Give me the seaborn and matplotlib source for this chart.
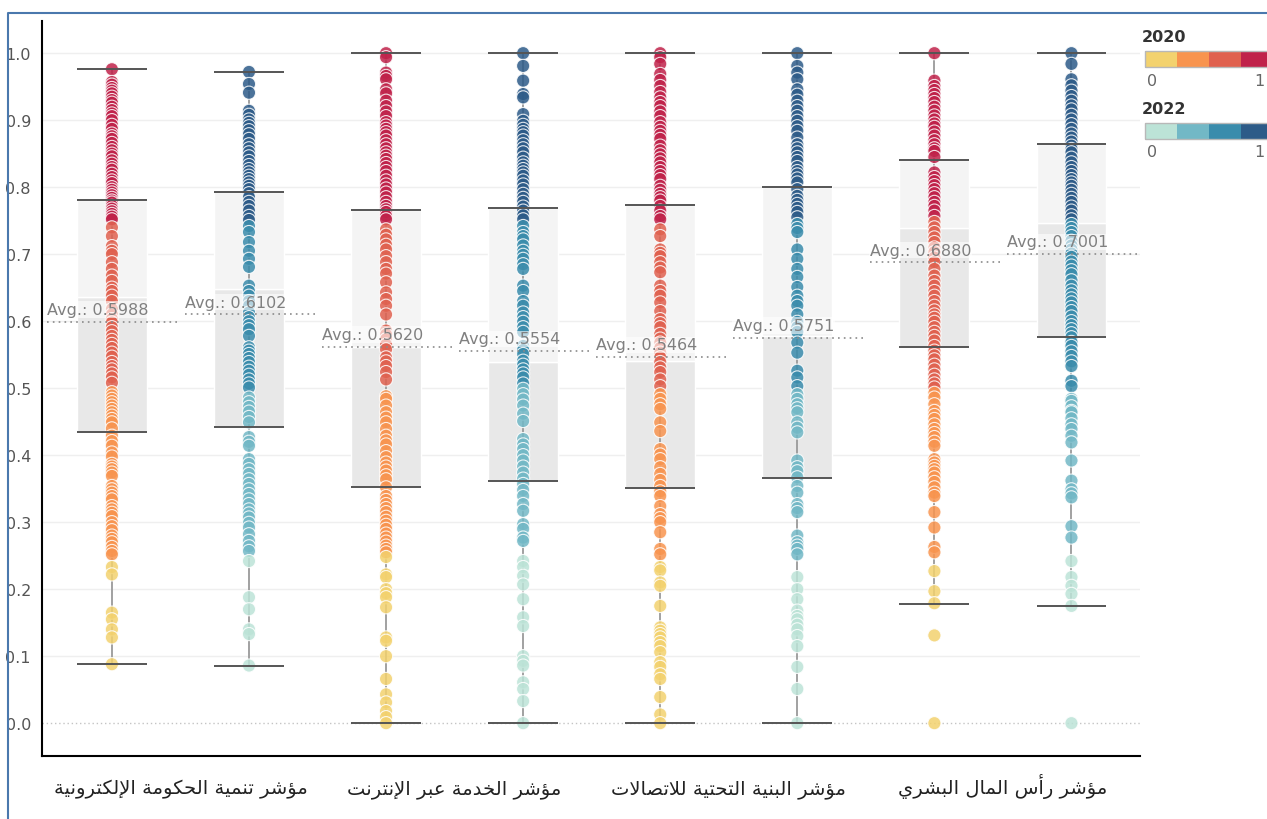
import numpy as np
import pandas as pd
import matplotlib
matplotlib.use("Agg")
import matplotlib.pyplot as plt
import seaborn as sns
from matplotlib.patches import Rectangle
from matplotlib.lines import Line2D

# -----------------------------
# Datos
# -----------------------------
indicators = ["مؤشر تنمية الحكومة الإلكترونية", "مؤشر الخدمة عبر الإنترنت",
              "مؤشر البنية التحتية للاتصالات", "مؤشر رأس المال البشري"]
years = ["2020", "2022"]

egov_2020 = [0.976, 0.957, 0.953, 0.948, 0.944, 0.940, 0.935, 0.930, 0.926, 0.920, 0.915, 0.910, 0.906, 0.900,
             0.893, 0.887, 0.880, 0.876, 0.872, 0.866, 0.860, 0.855, 0.850, 0.846, 0.840, 0.835, 0.830, 0.826,
             0.820, 0.815, 0.810, 0.806, 0.800, 0.796, 0.792, 0.788, 0.784, 0.780, 0.777, 0.772, 0.768, 0.764,
             0.760, 0.756, 0.752, 0.740, 0.727, 0.712, 0.705, 0.700, 0.688, 0.678, 0.668, 0.660, 0.650, 0.645,
             0.638, 0.630, 0.618, 0.610, 0.603, 0.598, 0.591, 0.585, 0.578, 0.572, 0.566, 0.560, 0.553, 0.547,
             0.539, 0.533, 0.528, 0.522, 0.516, 0.508, 0.494, 0.489, 0.484, 0.479, 0.474, 0.469, 0.464, 0.459,
             0.454, 0.449, 0.440, 0.429, 0.421, 0.414, 0.404, 0.398, 0.387, 0.383, 0.379, 0.374, 0.369, 0.354,
             0.349, 0.344, 0.339, 0.334, 0.324, 0.319, 0.314, 0.309, 0.300, 0.294, 0.288, 0.280, 0.275, 0.270,
             0.263, 0.257, 0.252, 0.233, 0.222, 0.165, 0.155, 0.140, 0.128, 0.088]
egov_2022 = [0.972, 0.954, 0.941, 0.914, 0.908, 0.901, 0.896, 0.891, 0.885, 0.879, 0.872, 0.864, 0.858, 0.852,
             0.846, 0.839, 0.833, 0.827, 0.822, 0.817, 0.812, 0.807, 0.802, 0.797, 0.791, 0.785, 0.778, 0.772,
             0.765, 0.757, 0.751, 0.742, 0.733, 0.718, 0.705, 0.693, 0.681, 0.653, 0.645, 0.638, 0.630, 0.623,
             0.613, 0.606, 0.600, 0.594, 0.588, 0.578, 0.561, 0.556, 0.551, 0.545, 0.539, 0.532, 0.526, 0.520,
             0.513, 0.507, 0.501, 0.486, 0.479, 0.472, 0.465, 0.457, 0.449, 0.427, 0.420, 0.414, 0.394, 0.387,
             0.379, 0.372, 0.364, 0.357, 0.349, 0.342, 0.334, 0.327, 0.319, 0.313, 0.307, 0.299, 0.292, 0.282,
             0.272, 0.264, 0.257, 0.242, 0.188, 0.170, 0.140, 0.133, 0.086]
online_2020 = [1.0, 0.994, 0.971, 0.966, 0.961, 0.946, 0.940, 0.929, 0.921, 0.913, 0.906, 0.897, 0.892, 0.887,
               0.882, 0.877, 0.870, 0.864, 0.858, 0.852, 0.847, 0.842, 0.836, 0.830, 0.824, 0.817, 0.810, 0.804,
               0.798, 0.792, 0.785, 0.778, 0.772, 0.767, 0.763, 0.757, 0.752, 0.737, 0.729, 0.722, 0.714, 0.707,
               0.697, 0.688, 0.678, 0.671, 0.658, 0.643, 0.633, 0.623, 0.610, 0.586, 0.580, 0.573, 0.565, 0.558,
               0.546, 0.540, 0.533, 0.524, 0.513, 0.488, 0.484, 0.474, 0.464, 0.456, 0.449, 0.439, 0.429, 0.422,
               0.416, 0.406, 0.397, 0.389, 0.383, 0.377, 0.370, 0.364, 0.352, 0.339, 0.333, 0.327, 0.321, 0.315,
               0.308, 0.302, 0.296, 0.290, 0.283, 0.277, 0.271, 0.265, 0.260, 0.255, 0.248, 0.222, 0.218, 0.200,
               0.194, 0.188, 0.173, 0.128, 0.123, 0.100, 0.066, 0.043, 0.031, 0.018, 0.009, 0.0]
online_2022 = [1.0, 0.981, 0.959, 0.939, 0.934, 0.909, 0.899, 0.893, 0.887, 0.882, 0.877, 0.870, 0.864, 0.858,
               0.852, 0.844, 0.837, 0.832, 0.827, 0.822, 0.817, 0.810, 0.804, 0.797, 0.790, 0.784, 0.778, 0.771,
               0.765, 0.758, 0.752, 0.742, 0.733, 0.727, 0.722, 0.713, 0.705, 0.699, 0.693, 0.685, 0.678, 0.653,
               0.645, 0.630, 0.623, 0.613, 0.606, 0.599, 0.591, 0.584, 0.563, 0.557, 0.551, 0.541, 0.535, 0.528,
               0.522, 0.516, 0.507, 0.499, 0.491, 0.483, 0.474, 0.462, 0.451, 0.424, 0.416, 0.409, 0.400, 0.392,
               0.383, 0.374, 0.365, 0.357, 0.348, 0.339, 0.327, 0.317, 0.297, 0.290, 0.277, 0.272, 0.242, 0.233,
               0.220, 0.207, 0.185, 0.158, 0.145, 0.100, 0.093, 0.086, 0.061, 0.051, 0.033, 0.0]
infra_2020 = [1.0, 0.994, 0.984, 0.969, 0.960, 0.951, 0.942, 0.934, 0.927, 0.921, 0.913, 0.906, 0.897, 0.890,
              0.884, 0.878, 0.872, 0.862, 0.855, 0.849, 0.843, 0.837, 0.830, 0.824, 0.818, 0.812, 0.802, 0.796,
              0.790, 0.785, 0.780, 0.772, 0.765, 0.757, 0.752, 0.737, 0.727, 0.707, 0.702, 0.697, 0.688, 0.680,
              0.673, 0.653, 0.645, 0.638, 0.628, 0.615, 0.603, 0.597, 0.591, 0.581, 0.574, 0.568, 0.560, 0.553,
              0.546, 0.539, 0.531, 0.524, 0.513, 0.503, 0.491, 0.484, 0.476, 0.469, 0.449, 0.436, 0.409, 0.401,
              0.394, 0.382, 0.372, 0.363, 0.354, 0.346, 0.339, 0.324, 0.312, 0.306, 0.300, 0.285, 0.260, 0.252,
              0.233, 0.228, 0.210, 0.205, 0.175, 0.143, 0.138, 0.133, 0.128, 0.121, 0.115, 0.106, 0.091, 0.084,
              0.073, 0.066, 0.039, 0.013, 0.0]
infra_2022 = [1.0, 0.981, 0.971, 0.961, 0.946, 0.938, 0.929, 0.921, 0.914, 0.906, 0.899, 0.891, 0.884, 0.874,
              0.864, 0.858, 0.852, 0.845, 0.839, 0.830, 0.824, 0.819, 0.813, 0.807, 0.797, 0.787, 0.781, 0.775,
              0.769, 0.763, 0.755, 0.745, 0.739, 0.733, 0.707, 0.693, 0.678, 0.666, 0.651, 0.638, 0.630, 0.623,
              0.610, 0.599, 0.591, 0.584, 0.568, 0.553, 0.526, 0.516, 0.503, 0.491, 0.484, 0.476, 0.470, 0.464,
              0.449, 0.441, 0.434, 0.392, 0.382, 0.376, 0.367, 0.354, 0.344, 0.327, 0.321, 0.315, 0.280, 0.270,
              0.265, 0.260, 0.252, 0.218, 0.200, 0.185, 0.168, 0.160, 0.155, 0.147, 0.140, 0.130, 0.115, 0.084,
              0.051, 0.0]
hci_2020 = [1.0, 0.959, 0.951, 0.945, 0.939, 0.933, 0.927, 0.920, 0.914, 0.907, 0.901, 0.895, 0.890, 0.883,
            0.877, 0.870, 0.864, 0.858, 0.854, 0.845, 0.822, 0.815, 0.809, 0.803, 0.797, 0.791, 0.785, 0.778,
            0.772, 0.765, 0.757, 0.748, 0.740, 0.733, 0.725, 0.718, 0.710, 0.703, 0.695, 0.688, 0.678, 0.668,
            0.660, 0.653, 0.645, 0.638, 0.630, 0.623, 0.616, 0.610, 0.605, 0.599, 0.591, 0.584, 0.578, 0.571,
            0.563, 0.556, 0.549, 0.543, 0.535, 0.528, 0.520, 0.513, 0.507, 0.501, 0.493, 0.486, 0.476, 0.466,
            0.460, 0.454, 0.446, 0.439, 0.433, 0.427, 0.420, 0.414, 0.394, 0.389, 0.384, 0.379, 0.374, 0.367,
            0.360, 0.352, 0.344, 0.339, 0.315, 0.292, 0.263, 0.255, 0.227, 0.197, 0.179, 0.131, 0.0]
hci_2022 = [1.0, 0.984, 0.961, 0.952, 0.944, 0.936, 0.929, 0.922, 0.916, 0.908, 0.901, 0.894, 0.887, 0.880,
            0.874, 0.868, 0.862, 0.857, 0.852, 0.844, 0.837, 0.830, 0.824, 0.818, 0.812, 0.807, 0.802, 0.796,
            0.790, 0.784, 0.778, 0.771, 0.765, 0.758, 0.752, 0.745, 0.739, 0.733, 0.727, 0.720, 0.713, 0.707,
            0.701, 0.696, 0.689, 0.683, 0.676, 0.670, 0.661, 0.653, 0.646, 0.640, 0.634, 0.628, 0.621, 0.615,
            0.607, 0.600, 0.594, 0.588, 0.582, 0.576, 0.569, 0.563, 0.555, 0.548, 0.540, 0.533, 0.511, 0.503,
            0.484, 0.481, 0.473, 0.466, 0.464, 0.455, 0.446, 0.439, 0.429, 0.419, 0.392, 0.362, 0.349, 0.343,
            0.337, 0.294, 0.277, 0.242, 0.218, 0.205, 0.193, 0.175, 0.0]

series = [egov_2020, egov_2022, online_2020, online_2022, infra_2020, infra_2022, hci_2020, hci_2022]

# estadisticas de las cajas
box_q1 = [0.434, 0.442, 0.353, 0.362, 0.351, 0.366, 0.561, 0.577]
box_med = [0.636, 0.648, 0.562, 0.539, 0.540, 0.578, 0.739, 0.746]
box_q3 = [0.781, 0.793, 0.766, 0.769, 0.773, 0.800, 0.841, 0.864]
whisk_lo = [0.088, 0.085, 0.0, 0.0, 0.0, 0.0, 0.178, 0.175]
whisk_hi = [0.976, 0.972, 1.0, 1.0, 1.0, 1.0, 1.0, 1.0]
means = [0.5988, 0.6102, 0.5620, 0.5554, 0.5464, 0.5751, 0.6880, 0.7001]

colors_2020 = ["#F3D26E", "#F8944F", "#E0614F", "#C0224A"]
colors_2022 = ["#BCE3D7", "#72B8C6", "#3A8CAC", "#2D5B88"]


# forma de presentacion arabe (matplotlib no hace "shaping")
FOUR = {'ئ': 0xFE89, 'ب': 0xFE8F, 'ت': 0xFE95, 'ث': 0xFE99, 'ج': 0xFE9D, 'ح': 0xFEA1, 'خ': 0xFEA5,
        'س': 0xFEB1, 'ش': 0xFEB5, 'ص': 0xFEB9, 'ض': 0xFEBD, 'ط': 0xFEC1, 'ظ': 0xFEC5, 'ع': 0xFEC9,
        'غ': 0xFECD, 'ف': 0xFED1, 'ق': 0xFED5, 'ك': 0xFED9, 'ل': 0xFEDD, 'م': 0xFEE1, 'ن': 0xFEE5,
        'ه': 0xFEE9, 'ي': 0xFEF1}
TWO = {'آ': 0xFE81, 'أ': 0xFE83, 'ؤ': 0xFE85, 'إ': 0xFE87, 'ا': 0xFE8D, 'ة': 0xFE93, 'د': 0xFEA9,
       'ذ': 0xFEAB, 'ر': 0xFEAD, 'ز': 0xFEAF, 'و': 0xFEED, 'ى': 0xFEEF}
LAMALEF = {'آ': 0xFEF5, 'أ': 0xFEF7, 'إ': 0xFEF9, 'ا': 0xFEFB}


def shape_ar(text):
    units = []
    i = 0
    while i < len(text):
        c = text[i]
        if c == 'ل' and i + 1 < len(text) and text[i + 1] in LAMALEF:
            units.append(('LA', text[i + 1]))
            i += 2
        else:
            units.append((c, None))
            i += 1

    def dual(u):
        return u[0] in FOUR

    def joining(u):
        return u[0] in FOUR or u[0] in TWO or u[0] == 'LA'

    out = []
    for k, u in enumerate(units):
        prev = units[k - 1] if k > 0 else None
        nxt = units[k + 1] if k + 1 < len(units) else None
        jp = prev is not None and dual(prev) and joining(u)
        jn = dual(u) and nxt is not None and joining(nxt)
        if u[0] == 'LA':
            out.append(chr(LAMALEF[u[1]] + (1 if jp else 0)))
        elif u[0] in FOUR:
            out.append(chr(FOUR[u[0]] + (3 if jp and jn else 1 if jp else 2 if jn else 0)))
        elif u[0] in TWO:
            out.append(chr(TWO[u[0]] + (1 if jp else 0)))
        else:
            out.append(u[0])
    return ''.join(reversed(out))


# -----------------------------
# Tabla larga
# -----------------------------
slots = [f"{k}_{y}" for k in range(len(indicators)) for y in years]
rows = []
for slot, vals in zip(slots, series):
    year = slot.split("_")[1]
    for v in vals:
        rows.append({"slot": slot, "valor": v, "bin": f"{year}_{min(int(v * 4), 3)}"})
df = pd.DataFrame(rows)

palette = {f"2020_{b}": c for b, c in enumerate(colors_2020)}
palette.update({f"2022_{b}": c for b, c in enumerate(colors_2022)})

# -----------------------------
# Grafico
# -----------------------------
sns.set_style("white")
plt.rcParams['font.family'] = ['DejaVu Sans']

fig, ax = plt.subplots(figsize=(12.67, 8.2), dpi=100)
ax.set_position([42 / 1267, 63 / 820, 1098 / 1267, 735 / 820])

pos = np.arange(len(slots))
q1 = np.array(box_q1)
md = np.array(box_med)
q3 = np.array(box_q3)
bw = 0.51

ax.bar(pos, md - q1, bottom=q1, width=bw, color="#e8e8e8", zorder=1)
ax.bar(pos, q3 - md, bottom=md, width=bw, color="#f4f4f4", zorder=1)
ax.vlines(pos, whisk_lo, whisk_hi, color="#9a9a9a", lw=1.3, zorder=1.5)

sns.stripplot(data=df, x="slot", y="valor", hue="bin", order=slots, palette=palette,
              jitter=False, size=9.5, linewidth=0.8, edgecolor="white", alpha=0.85,
              legend=False, ax=ax, zorder=3)

for arr in [q1, q3, whisk_lo, whisk_hi]:
    ax.hlines(arr, pos - bw / 2, pos + bw / 2, color="#555555", lw=1.4, zorder=4)

# promedios
ax.hlines(means, pos - 0.47, pos + 0.5, colors="#8a8a8a", linestyles=(0, (1, 2.5)), lw=1.2, zorder=5)
for p, m in zip(pos, means):
    ax.text(p - 0.47, m + 0.007, f"Avg.: {m:.4f}", ha="left", va="bottom", fontsize=11.5,
            color="#808080", zorder=6,
            bbox=dict(boxstyle="square,pad=0.05", fc="white", ec="none", alpha=0.6))

ax.set_ylim(-0.049, 1.048)
ax.set_xlim(-0.51, 7.5)
ax.set_yticks(np.arange(0, 1.01, 0.1))
ax.set_yticklabels([f"{t:.1f}" for t in np.arange(0, 1.01, 0.1)])
ax.set_xticks([0.5, 2.5, 4.5, 6.5])
ax.set_xticklabels([shape_ar(t) for t in indicators])
ax.set_xlabel("")
ax.set_ylabel("")

for t in np.arange(0.1, 1.01, 0.1):
    ax.axhline(t, color="#efefef", lw=1, zorder=0)
ax.axhline(0, color="#c4c4c4", lw=1, ls=(0, (1, 2)), zorder=0)

ax.tick_params(axis="y", length=0, labelsize=11.5, labelcolor="#555555", pad=8)
ax.tick_params(axis="x", length=0, labelsize=14, labelcolor="#222222", pad=27)
for lab in ax.get_xticklabels():
    lab.set_verticalalignment("baseline")
for s in ["top", "right"]:
    ax.spines[s].set_visible(False)
for s in ["left", "bottom"]:
    ax.spines[s].set_color("black")
    ax.spines[s].set_linewidth(1.5)

# marco azul
fx, fy = 8 / 1267, 1 - 14 / 820
fig.add_artist(Line2D([fx, fx, 1.01], [-0.01, fy, fy], transform=fig.transFigure,
                      color="#4a78ad", lw=1.5))

# leyenda de colores
for year, cols, ty in [("2020", colors_2020, 38), ("2022", colors_2022, 110)]:
    fig.text(1142 / 1267, 1 - ty / 820, year, ha="left", va="center", fontsize=11.5,
             fontweight="bold", color="#333333")
    for b, c in enumerate(cols):
        fig.add_artist(Rectangle(((1145 + 32 * b) / 1267, 1 - (ty + 30) / 820), 32 / 1267, 16 / 820,
                                 transform=fig.transFigure, facecolor=c, edgecolor="none"))
    fig.add_artist(Rectangle((1145 / 1267, 1 - (ty + 30) / 820), 130 / 1267, 16 / 820,
                             transform=fig.transFigure, fill=False, edgecolor="#b8b8b8", lw=1))
    fig.text(1147 / 1267, 1 - (ty + 43) / 820, "0", ha="left", va="center", fontsize=11.5, color="#666666")
    fig.text(1264 / 1267, 1 - (ty + 43) / 820, "1", ha="right", va="center", fontsize=11.5, color="#666666")

fig.savefig("out.png", dpi=100)
